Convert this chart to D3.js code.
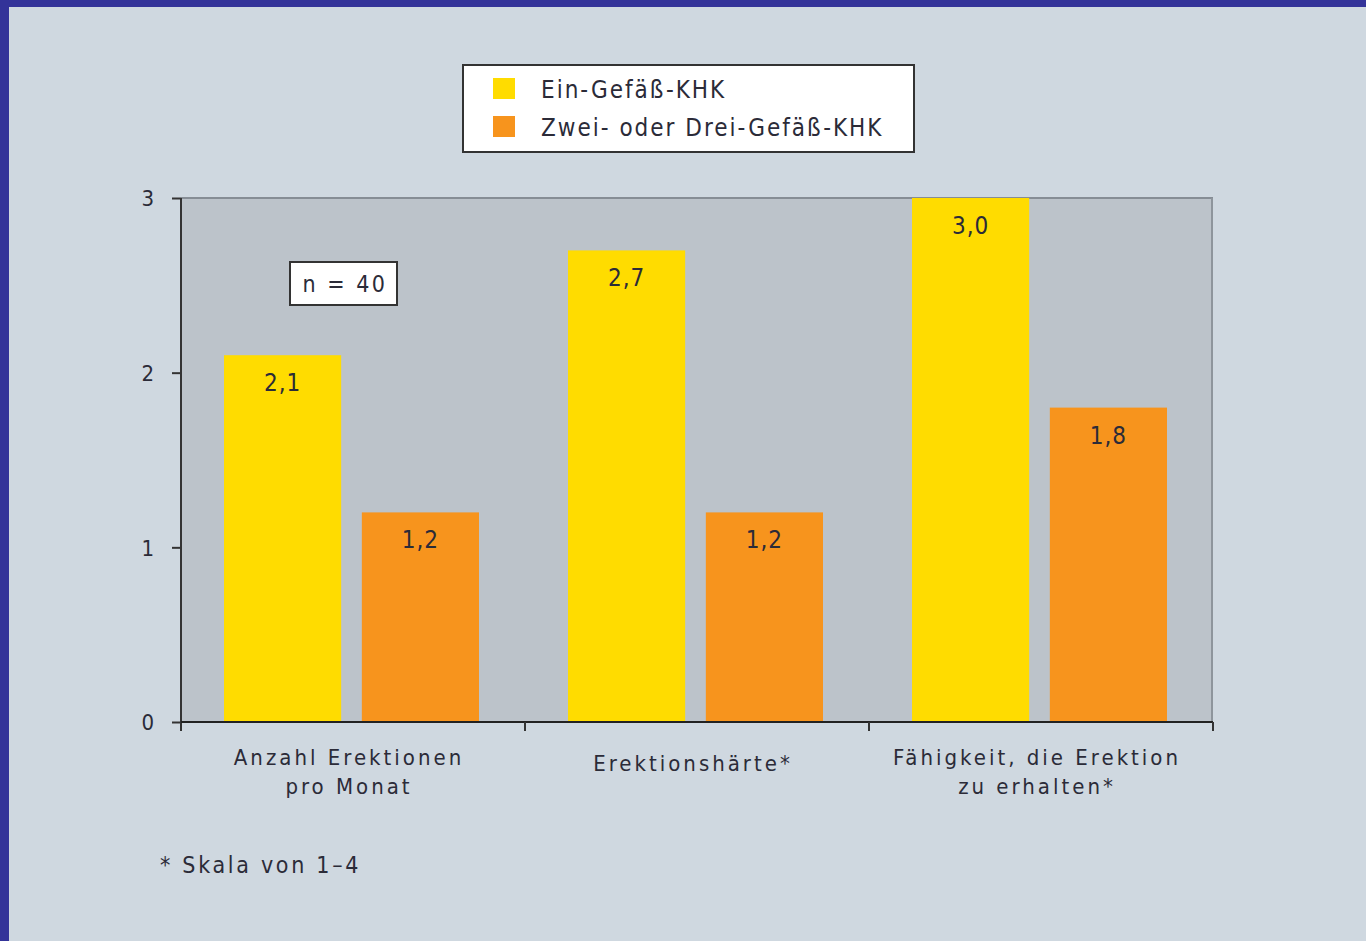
<!DOCTYPE html>
<html><head><meta charset="utf-8">
<script src="https://cdn.jsdelivr.net/npm/d3@7"></script>
<style>
html,body{margin:0;padding:0;background:#cfd8e0;}
svg{display:block;}
text{font-family:"DejaVu Sans Condensed","Liberation Sans Narrow","DejaVu Sans",sans-serif;fill:#2b2b38;}
</style></head><body>
<script>
const categories = [["Anzahl Erektionen","pro Monat"],["Erektionshärte*"],["Fähigkeit, die Erektion","zu erhalten*"]];
const seriesNames = ["Ein-Gefäß-KHK","Zwei- oder Drei-Gefäß-KHK"];
const ein = [2.1, 2.7, 3.0];
const zweiDrei = [1.2, 1.2, 1.8];
const valueLabels = [["2,1","2,7","3,0"],["1,2","1,2","1,8"]];
const yTicks = [0,1,2,3];
const colors = ["#ffdc00","#f7941d"];
const sampleNote = "n = 40";
const footnote = "* Skala von 1–4";

const W=1366,H=941;
const svg=d3.select("body").append("svg").attr("width",W).attr("height",H);
svg.append("rect").attr("width",W).attr("height",H).attr("fill","#cfd8e0");
svg.append("rect").attr("x",0).attr("y",0).attr("width",W).attr("height",7).attr("fill","#333399");
svg.append("rect").attr("x",0).attr("y",0).attr("width",9).attr("height",H).attr("fill","#333399");

const pL=181,pR=1213,pT=198,pB=722;
const y=d3.scaleLinear().domain([0,3]).range([pB,pT]);
const x0=d3.scaleBand().domain(d3.range(categories.length)).range([pL,pR]).padding(0);
const x1=d3.scaleBand().domain([0,1]).range([43,298]).paddingInner(0.15);

// plot area
svg.append("rect").attr("x",pL).attr("y",pT).attr("width",pR-pL).attr("height",pB-pT).attr("fill","#bcc3ca");
svg.append("line").attr("x1",pL).attr("x2",pR).attr("y1",pT).attr("y2",pT).attr("stroke","#868d95").attr("stroke-width",2);
svg.append("line").attr("x1",pR-1).attr("x2",pR-1).attr("y1",pT).attr("y2",pB).attr("stroke","#8e959c").attr("stroke-width",2);

const data=[ein,zweiDrei];
const g=svg.append("g");
data.forEach((vals,si)=>{
  vals.forEach((v,ci)=>{
    const bx=x0(ci)+x1(si);
    g.append("rect").attr("x",bx).attr("y",y(v)).attr("width",x1.bandwidth()).attr("height",pB-y(v)).attr("fill",colors[si]);
    g.append("text").attr("x",bx+x1.bandwidth()/2).attr("y",y(v)+36).attr("text-anchor","middle")
      .style("font-size","24px").style("letter-spacing","1px").text(valueLabels[si][ci]);
  });
});

// axes
const yAxis=svg.append("g").attr("transform",`translate(${pL},0)`).call(d3.axisLeft(y).tickValues(yTicks).tickSize(9).tickFormat(d3.format("d")));
yAxis.select(".domain").remove();
yAxis.selectAll(".tick line").attr("stroke","#333").attr("stroke-width",2);
yAxis.selectAll(".tick text").attr("x",-27).attr("dy","0.35em").style("font-size","22px").attr("fill","#2b2b38");
svg.append("line").attr("x1",pL).attr("x2",pL).attr("y1",pT).attr("y2",pB+9).attr("stroke","#333").attr("stroke-width",2);
svg.append("line").attr("x1",pL).attr("x2",pR).attr("y1",pB).attr("y2",pB).attr("stroke","#222").attr("stroke-width",2);
[1,2,3].forEach(i=>{
  const xx = i<3 ? x0(i) : pR;
  svg.append("line").attr("x1",xx).attr("x2",xx).attr("y1",pB).attr("y2",pB+9).attr("stroke","#333").attr("stroke-width",2);
});

// category labels
categories.forEach((lines,ci)=>{
  const cx=x0(ci)+x0.bandwidth()/2-4;
  const t=svg.append("text").attr("text-anchor","middle").style("font-size","22px").style("letter-spacing","3px");
  const y0 = lines.length===1 ? 771 : 765;
  lines.forEach((l,li)=>t.append("tspan").attr("x",cx).attr("y",y0+li*29).text(l));
});

// legend
svg.append("rect").attr("x",463).attr("y",65).attr("width",451).attr("height",87).attr("fill","#fff").attr("stroke","#333").attr("stroke-width",2);
seriesNames.forEach((n,i)=>{
  svg.append("rect").attr("x",493).attr("y",78+i*38).attr("width",22).attr("height",21).attr("fill",colors[i]);
  svg.append("text").attr("x",541).attr("y",98+i*38).style("font-size","24px").style("letter-spacing","2px").text(n);
});

// n box
svg.append("rect").attr("x",290).attr("y",262).attr("width",107).attr("height",43).attr("fill","#fff").attr("stroke","#333").attr("stroke-width",2);
svg.append("text").attr("x",345).attr("y",292).attr("text-anchor","middle").style("font-size","23px").style("letter-spacing","2.5px").text(sampleNote);

// footnote
svg.append("text").attr("x",160).attr("y",873).style("font-size","23px").style("letter-spacing","2.7px").text(footnote);
</script></body></html>
